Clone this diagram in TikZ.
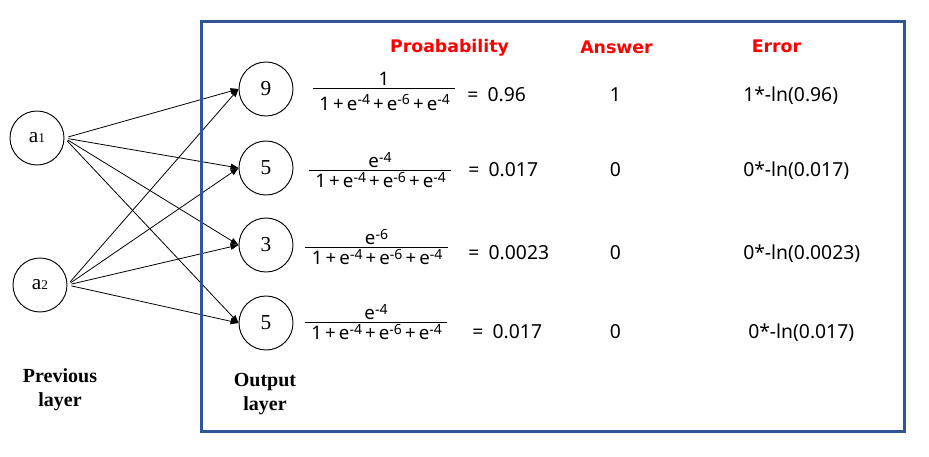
\documentclass[tikz,border=0pt]{standalone}
\usepackage{amsmath}
\usepackage{fontspec}
\setmainfont{Noto Sans}
\newfontfamily\headfont{DejaVu Sans}
\newfontfamily\tmsfont{Liberation Serif}
\usetikzlibrary{arrows.meta}

\definecolor{boxblue}{RGB}{47,85,151}

\newcommand{\ex}[1]{e\raisebox{4pt}{\fontsize{10.5}{10.5}\selectfont -#1}}
\newcommand{\softden}{1\,+\,\ex{4}\,+\,\ex{6}\,+\,\ex{4}}
\newcommand{\pfrac}[2]{$\genfrac{}{}{0.9pt}{1}{\mbox{#1}}{\mbox{\hspace{5pt}#2\hspace{4pt}}}$}

\begin{document}
\begin{tikzpicture}[x=0.75pt, y=-0.75pt,
                neuron/.style = {draw, circle, line width=0.7pt, inner sep = 0mm, minimum size = 40.5pt, font=\tmsfont\fontsize{16}{16}\selectfont},
                arr/.style = {draw, line width=0.6pt, -{Triangle[length=6pt, width=4.5pt]}, shorten <=3pt},
                head/.style = {anchor=base, text=red, inner sep=0pt, font=\headfont\bfseries\fontsize{13}{13}\selectfont},
                val/.style = {anchor=base west, inner sep=0pt, font=\fontsize{14.5}{14.5}\selectfont},
                ans/.style = {anchor=base, inner sep=0pt, font=\fontsize{14.5}{14.5}\selectfont},
                frc/.style = {anchor=base, inner sep=0pt, font=\fontsize{14}{14}\selectfont},
                layer/.style = {align=center, font=\tmsfont\bfseries\fontsize{15}{18}\selectfont},
                frame/.style = {draw=boxblue, line width=2.25pt},
            ]
            \useasboundingbox (0,0) rectangle (929,457);
            \fill[white] (0,0) rectangle (929,457);

            \node (a1) [neuron] at (37,138) {a{\fontsize{10}{10}\selectfont 1}};
            \node (a2) [neuron] at (40,285) {a{\fontsize{10}{10}\selectfont 2}};

            \node (o1) [neuron] at (266,89) {9};
            \node (o2) [neuron] at (266,168) {5};
            \node (o3) [neuron] at (266,245) {3};
            \node (o4) [neuron] at (266,323) {5};

            \path[arr] (a1.east) -- (o1.west);
            \path[arr] (a1.east) -- (o2.west);
            \path[arr] (a1.east) -- (o3.west);
            \path[arr] (a1.east) -- (o4.west);

            \path[arr] (a2.east) -- (o1.west);
            \path[arr] (a2.east) -- (o2.west);
            \path[arr] (a2.east) -- (o3.west);
            \path[arr] (a2.east) -- (o4.west);

            \node (prev) [layer] at (60,390) {Previous\\layer};
            \node (outl) [layer] at (265,394) {Output\\layer};

            \node (hprob) [head] at (449.5,52) {Proabability};
            \node (hans) [head] at (616.5,53) {Answer};
            \node (herr) [head] at (776.5,52) {Error};

            \node (p1) [frc] at (384,93) {\pfrac{1}{\rule{0pt}{15pt}\softden}};
            \node (p2) [frc] at (380,175) {\pfrac{\ex{4}}{\softden}};
            \node (p3) [frc] at (376.5,252) {\pfrac{\ex{6}}{\softden}};
            \node (p4) [frc] at (376,327) {\pfrac{\ex{4}}{\softden}};

            \node (v1) [val] at (467,101.5) {=\hspace{7pt}0.96};
            \node (v2) [val] at (468,176.5) {=\hspace{7pt}0.017};
            \node (v3) [val] at (468,259) {=\hspace{7pt}0.0023};
            \node (v4) [val] at (472,338) {=\hspace{7pt}0.017};

            \node (t1) [ans] at (615.5,101.5) {1};
            \node (t2) [ans] at (615.5,176.5) {0};
            \node (t3) [ans] at (615.5,259) {0};
            \node (t4) [ans] at (615.5,338) {0};

            \node (e1) [val] at (743,101.5) {1*-ln(0.96)};
            \node (e2) [val] at (743,176.5) {0*-ln(0.017)};
            \node (e3) [val] at (743,259) {0*-ln(0.0023)};
            \node (e4) [val] at (748,338) {0*-ln(0.017)};

            \draw[frame] (201.5,21.5) rectangle (904,431.5);
        \end{tikzpicture}
\end{document}
